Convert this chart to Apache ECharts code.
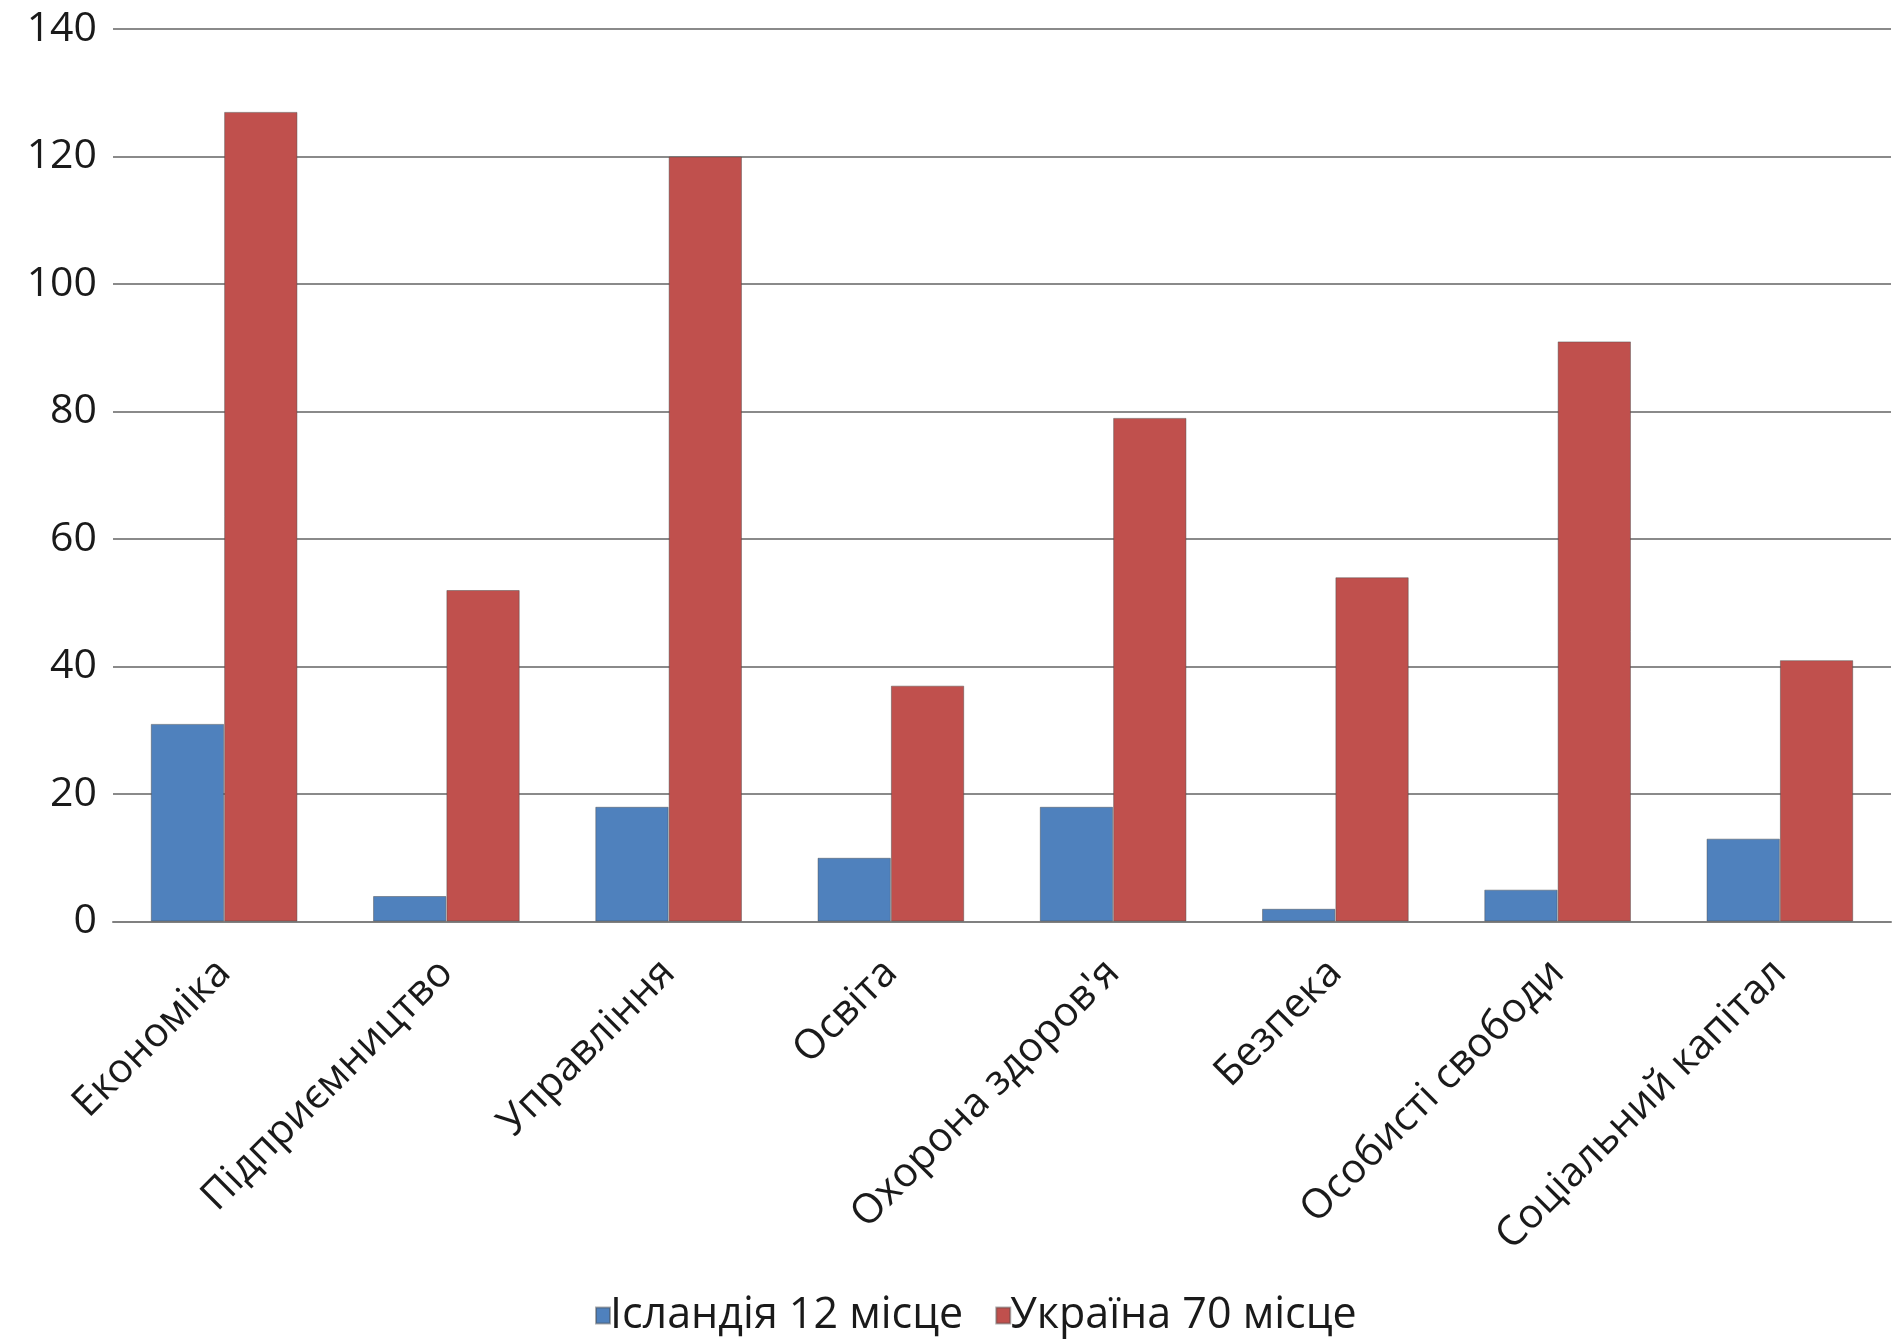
<!DOCTYPE html>
<html>
<head>
<meta charset="utf-8">
<script src="https://cdn.jsdelivr.net/npm/echarts@6/dist/echarts.min.js"></script>
<style>
html,body{margin:0;padding:0;background:#fff;}
#chart{width:1895px;height:1340px;}
</style>
</head>
<body>
<div id="chart"></div>
<script>
const categories = ['Економіка', 'Підприємництво', 'Управління', 'Освіта', "Охорона здоров'я", 'Безпека', 'Особисті свободи', 'Соціальний капітал'];
const seriesNames = ['Ісландія 12 місце', 'Україна 70 місце'];
const iceland = [31, 4, 18, 10, 18, 2, 5, 13];
const ukraine = [127, 52, 120, 37, 79, 54, 91, 41];
const yTicks = { min: 0, max: 140, interval: 20 };

const FONT = '"Open Sans", "DejaVu Sans", sans-serif';
const chart = echarts.init(document.getElementById('chart'), null, { renderer: 'canvas' });
chart.setOption({
  animation: false,
  backgroundColor: '#ffffff',
  textStyle: { fontFamily: FONT },
  grid: { left: 113, right: 4, top: 29, bottom: 418.5, containLabel: false },
  legend: {
    data: seriesNames,
    bottom: -2,
    left: 590,
    itemWidth: 14,
    itemHeight: 16,
    itemGap: 32,
    icon: 'rect',
    textStyle: { fontFamily: FONT, fontSize: 43, color: '#1a1a1a', padding: [0, 0, 0, -5] }
  },
  xAxis: {
    type: 'category',
    data: categories,
    axisLine: { show: true, lineStyle: { color: '#808080', width: 2 } },
    axisTick: { show: false },
    axisLabel: {
      rotate: 45,
      interval: 0,
      margin: 45,
      fontFamily: FONT,
      fontSize: 41,
      color: '#1a1a1a'
    }
  },
  yAxis: {
    type: 'value',
    min: yTicks.min,
    max: yTicks.max,
    interval: yTicks.interval,
    axisLine: { show: false },
    axisTick: { show: false },
    splitLine: { show: true, lineStyle: { color: '#8a8a8a', width: 2 } },
    axisLabel: { margin: 16, fontFamily: FONT, fontSize: 41, color: '#1a1a1a', padding: [18, 0, 0, 0] }
  },
  series: [
    {
      name: seriesNames[0],
      type: 'bar',
      data: iceland,
      barGap: '0%',
      barCategoryGap: '34%',
      itemStyle: { color: '#4F81BD', borderColor: 'rgba(70,70,70,0.45)', borderWidth: 1 }
    },
    {
      name: seriesNames[1],
      type: 'bar',
      data: ukraine,
      barGap: '0%',
      barCategoryGap: '34%',
      itemStyle: { color: '#C0504D', borderColor: 'rgba(70,70,70,0.45)', borderWidth: 1 }
    }
  ]
});
</script>
</body>
</html>
